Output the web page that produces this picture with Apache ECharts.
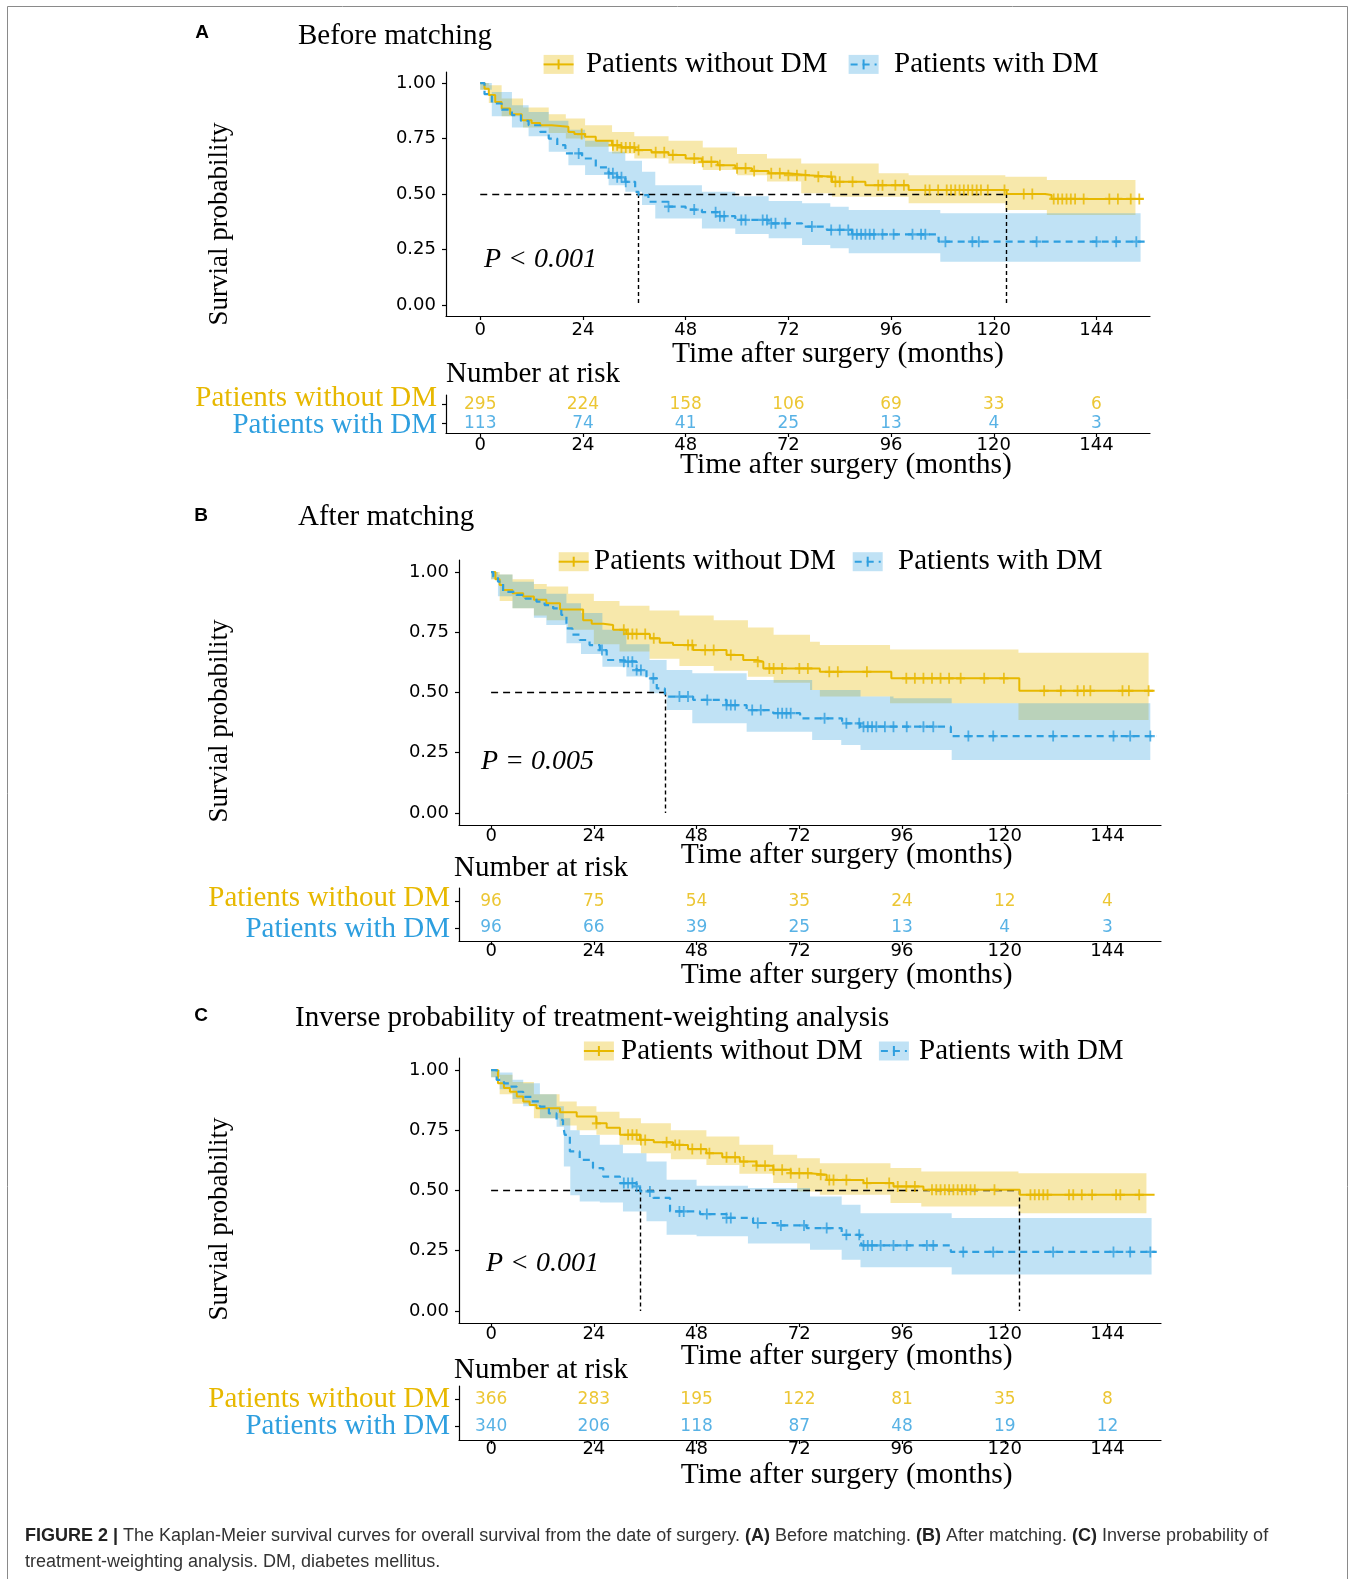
<!DOCTYPE html>
<html><head><meta charset="utf-8">
<script src="https://cdn.jsdelivr.net/npm/echarts@6/dist/echarts.min.js"></script>
<style>html,body{margin:0;padding:0;background:#fff}#c{width:1360px;height:1579px}</style>
</head><body><div id="c"></div><script>
// ---------------- DATA ----------------
const xTicks = [0, 24, 48, 72, 96, 120, 144];
const yTicks = [0, 0.25, 0.5, 0.75, 1];
const groups = ['Patients without DM', 'Patients with DM'];
const panelTitles = ['Before matching', 'After matching', 'Inverse probability of treatment-weighting analysis'];
const pLabels = ['P < 0.001', 'P = 0.005', 'P < 0.001'];

// Panel A
const A_noDM_t = [0,1,2,3.5,5,7,9.7,12,14,16.7,20.6,22,24.5,27,30.8,33,36.2,40,44,48,51.8,55.5,59.6,63.5,67.4,72,76.7,82.2,90,100.1,123,132,133.5,155];
const A_noDM_s = [1,0.975,0.946,0.915,0.886,0.86,0.833,0.82,0.81,0.803,0.78,0.77,0.758,0.74,0.72,0.71,0.698,0.688,0.676,0.66,0.645,0.63,0.616,0.604,0.593,0.585,0.578,0.555,0.54,0.518,0.50,0.495,0.478,0.478];
const A_noDM_ciT = [0,2,5,10,16,20,24.5,30.8,36,44,52,60,67,75,82.2,93.1,100.1,122.7,132.4,153.1];
const A_noDM_hi = [1,0.99,0.93,0.89,0.86,0.84,0.81,0.78,0.76,0.74,0.71,0.68,0.66,0.638,0.638,0.593,0.585,0.578,0.563,0.563];
const A_noDM_lo = [0.97,0.91,0.85,0.80,0.775,0.75,0.713,0.683,0.66,0.638,0.608,0.585,0.556,0.503,0.488,0.488,0.458,0.428,0.405,0.405];
const A_noDM_cens = [23.7,31,32,33,34,35,36,37,41,43,45,50,52,54,56,60,62,64,68,70,72,74,76,79,82,83,84,87,93,94,97,99,104,105,107,109,110,111,112,113,114,115,116,117,118.6,122.5,127,129,134,135,136,137,138,139,141,147,149,152,154];
const A_DM_t = [0,1,2.7,5,7.4,9.5,11.3,14,16,18,19.9,23.8,27,30,32,33.9,36.2,37,39.3,44,48,51.8,55.5,59.6,67.4,75.2,81,86.9,107.1,155.4];
const A_DM_s = [1,0.95,0.908,0.88,0.856,0.83,0.81,0.78,0.75,0.72,0.683,0.66,0.62,0.593,0.575,0.555,0.51,0.495,0.465,0.443,0.43,0.418,0.40,0.383,0.368,0.353,0.338,0.318,0.285,0.285];
const A_DM_ciT = [0,2.7,7.4,11.3,16,20.6,24.5,30,33.9,37.8,40.9,51.8,59.6,67.4,75.2,81.8,86.1,107.5,154.3];
const A_DM_hi = [1,0.96,0.9,0.87,0.83,0.79,0.74,0.69,0.65,0.60,0.54,0.51,0.49,0.468,0.458,0.443,0.428,0.413,0.413];
const A_DM_lo = [0.97,0.85,0.80,0.76,0.69,0.63,0.586,0.54,0.51,0.45,0.39,0.345,0.32,0.30,0.27,0.255,0.233,0.195,0.195];
const A_DM_cens = [23,30,31,32,33,34,44,50,55,56,57,61,62,66,67,68,69,71.3,77.5,82,84,86,87,88,89,90,91,92,94,96.6,101,103,104,108.7,115,116.5,130,144,148.6,153.3];
const A_medians = [37, 123];
const A_risk_noDM = [295, 224, 158, 106, 69, 33, 6];
const A_risk_DM = [113, 74, 41, 25, 13, 4, 3];

// Panel B
const B_noDM_t = [0,1,2,2.8,5,7.5,10,12.9,16.1,21.5,23.5,26.2,28.5,31.6,37.1,39.4,42.5,47.2,55,58.9,62,63.6,76.8,93.5,123.4,155];
const B_noDM_s = [1,0.97,0.946,0.925,0.912,0.898,0.885,0.87,0.845,0.80,0.785,0.78,0.76,0.743,0.725,0.707,0.697,0.676,0.656,0.635,0.628,0.60,0.586,0.559,0.507,0.507];
const B_noDM_ciT = [0,2,5,10,13,18,24,30,37,44,52,60,66,74.5,76.8,93.2,123.2,153.6];
const B_noDM_hi = [1,0.99,0.97,0.95,0.94,0.91,0.88,0.86,0.84,0.82,0.80,0.77,0.74,0.711,0.697,0.679,0.665,0.665];
const B_noDM_lo = [0.97,0.88,0.85,0.82,0.80,0.76,0.70,0.67,0.64,0.61,0.59,0.565,0.54,0.51,0.483,0.455,0.386,0.386];
const B_noDM_cens = [31,32,33,34,36,38,46,47,50,52,56,62.3,65,66,68,72,74,79,81,87.8,97,99,101,103,105,107,109.7,115.2,119.8,129.2,133.1,137,138.5,140,147.5,149,153.6];
const B_DM_t = [0,0.5,1.6,2.8,5.9,8,10.6,12.5,14.5,16.4,17.6,19,20.7,23,25.4,27,30.1,34,36.3,38.7,40.6,47.2,55,59.7,65.9,72.2,82,86.2,107.4,155.5];
const B_DM_s = [1,0.98,0.96,0.918,0.905,0.89,0.877,0.863,0.849,0.822,0.766,0.74,0.718,0.697,0.676,0.635,0.628,0.593,0.559,0.517,0.483,0.469,0.448,0.427,0.414,0.393,0.372,0.358,0.319,0.319];
const B_DM_ciT = [0,1.6,5,10,12.9,17.6,21,26,31.6,37,41,47,59.7,75,81.8,86.3,94,107.6,154];
const B_DM_hi = [1,0.99,0.96,0.93,0.91,0.87,0.83,0.76,0.70,0.635,0.593,0.58,0.552,0.51,0.51,0.483,0.476,0.455,0.455];
const B_DM_lo = [0.97,0.9,0.85,0.81,0.78,0.704,0.66,0.607,0.566,0.497,0.427,0.372,0.337,0.303,0.282,0.261,0.261,0.22,0.22];
const B_DM_cens = [25.9,31,32,33,34,35,37.9,44,46,50.5,55,56,57,61,63,67,68,69,70,77.9,83,86,87,88,89,90,92,94,97.1,101,103.3,111.5,117.3,131.3,145.4,149.3,154];
const B_medians = [40.6];
const B_risk_noDM = [96, 75, 54, 35, 24, 12, 4];
const B_risk_DM = [96, 66, 39, 25, 13, 4, 3];

// Panel C
const C_noDM_t = [0,1.6,3,4.4,6,7.5,9,10.6,16.1,20,24.6,27,30.1,34.8,38,42.5,46,50.3,54,58.1,62,65.9,70,74.5,78.4,87,94,101,123.5,155];
const C_noDM_s = [1,0.945,0.925,0.91,0.89,0.869,0.855,0.841,0.825,0.807,0.779,0.76,0.731,0.71,0.70,0.689,0.672,0.655,0.638,0.62,0.603,0.586,0.572,0.565,0.544,0.531,0.517,0.503,0.482,0.482];
const C_noDM_ciT = [0,2,5,10,16,20,24.6,30,35,42,50.3,58,65.9,71.5,76.8,93.3,100.5,123.2,153.1];
const C_noDM_hi = [1,0.98,0.95,0.90,0.869,0.85,0.827,0.80,0.779,0.75,0.724,0.69,0.648,0.634,0.613,0.593,0.579,0.572,0.572];
const C_noDM_lo = [0.97,0.90,0.86,0.80,0.77,0.75,0.731,0.69,0.655,0.63,0.606,0.57,0.531,0.496,0.482,0.448,0.434,0.406,0.406];
const C_noDM_cens = [24.6,32,33,34,35,36,41,43,44,47,49,51,55,57,59,62,64,66,68,70,72,74,77,79,80,83,87.8,93,95,97,99,103,104,105,106,107,108,109,110,111,112,113,117.6,126,127,128,129,130,135,136,138,140.4,146,147,151.4];
const C_DM_t = [0,1.3,3,4.4,6,7.5,9.5,11.4,13.5,15.3,16.8,17.2,18.4,20.7,23.8,26.2,30.1,34,34.8,37.9,41.8,48.8,55,61.2,67.5,73.7,81.9,86.2,86.6,107.4,155.5];
const C_DM_s = [1,0.959,0.945,0.931,0.91,0.889,0.87,0.848,0.82,0.793,0.772,0.731,0.662,0.627,0.593,0.558,0.531,0.517,0.496,0.469,0.413,0.402,0.386,0.365,0.355,0.344,0.316,0.296,0.272,0.245,0.245];
const C_DM_ciT = [0,2,5,7.5,11.4,15.3,17,18.5,20.7,25.4,30.8,36.3,41,48,60,74.5,81.9,86.3,107.6,154.3];
const C_DM_hi = [1,0.99,0.96,0.945,0.90,0.85,0.80,0.75,0.73,0.69,0.655,0.62,0.545,0.52,0.51,0.475,0.441,0.406,0.386,0.386];
const C_DM_lo = [0.97,0.92,0.88,0.85,0.80,0.765,0.6,0.48,0.454,0.45,0.413,0.372,0.316,0.31,0.28,0.254,0.213,0.181,0.151,0.151];
const C_DM_cens = [31,32,33,34,37.1,44,45,50.4,55,56,62.3,67.7,73.1,78.4,83,86,87,88,89,91,94,97.1,101.8,103.3,110.3,117.3,131.3,145.4,149.3,154];
const C_medians = [34.8, 123.5];
const C_risk_noDM = [366, 283, 195, 122, 81, 35, 8];
const C_risk_DM = [340, 206, 118, 87, 48, 19, 12];

// ---------------- STYLE / LAYOUT ----------------
const YEL = '#E7B800', BLU = '#2E9FDF';
const YEL_BAND = 'rgba(231,184,0,0.33)', BLU_BAND = 'rgba(46,159,223,0.30)';
const SERIF = '"Liberation Serif","Times New Roman",serif';
const SANS = '"DejaVu Sans",sans-serif';
const CAPF = '"Liberation Sans",Arial,sans-serif';
const FS = 29;

const panels = [
  { letter:'A', title:panelTitles[0], p:pLabels[0], med:A_medians, riskNo:A_risk_noDM, riskDM:A_risk_DM,
    noDM:{t:A_noDM_t,s:A_noDM_s,ciT:A_noDM_ciT,lo:A_noDM_lo,hi:A_noDM_hi,cens:A_noDM_cens},
    DM:{t:A_DM_t,s:A_DM_s,ciT:A_DM_ciT,lo:A_DM_lo,hi:A_DM_hi,cens:A_DM_cens},
    L:{plot:{left:446,top:72,width:704,height:244}, table:{left:446,top:395,width:704,height:38}, xmin:-8, xmax:156.5,
       pm:5, tm:3, padTop:[0,0,12,0], padBot:[4,0,0,0],
       letterXY:[202,33], titleXY:[298,36], leg:[64.4,543.6,585.9,848.6,894], ytY:224, pXY:[484,260], narXY:[446,374.5],
       xt1:[838,354], xt2:[846,465]} },
  { letter:'B', title:panelTitles[1], p:pLabels[1], med:B_medians, riskNo:B_risk_noDM, riskDM:B_risk_DM,
    noDM:{t:B_noDM_t,s:B_noDM_s,ciT:B_noDM_ciT,lo:B_noDM_lo,hi:B_noDM_hi,cens:B_noDM_cens},
    DM:{t:B_DM_t,s:B_DM_s,ciT:B_DM_ciT,lo:B_DM_lo,hi:B_DM_hi,cens:B_DM_cens},
    L:{plot:{left:459,top:560,width:702,height:265}, table:{left:459,top:888,width:702,height:53}, xmin:-7.5, xmax:156.5,
       pm:2, tm:1, padTop:[0,0,6,0], padBot:[4,0,0,0],
       letterXY:[201,515.5], titleXY:[298,517], leg:[561.7,558.7,594,852.7,898], ytY:721, pXY:[481,762], narXY:[454,868],
       xt1:[846.6,855], xt2:[846.6,975]} },
  { letter:'C', title:panelTitles[2], p:pLabels[2], med:C_medians, riskNo:C_risk_noDM, riskDM:C_risk_DM,
    noDM:{t:C_noDM_t,s:C_noDM_s,ciT:C_noDM_ciT,lo:C_noDM_lo,hi:C_noDM_hi,cens:C_noDM_cens},
    DM:{t:C_DM_t,s:C_DM_s,ciT:C_DM_ciT,lo:C_DM_lo,hi:C_DM_hi,cens:C_DM_cens},
    L:{plot:{left:459,top:1058,width:702,height:265}, table:{left:459,top:1386,width:702,height:54}, xmin:-7.5, xmax:156.5,
       pm:2.5, tm:0, padTop:[0,0,0,0], padBot:[0,0,0,0],
       letterXY:[201,1016], titleXY:[295,1018], leg:[1051,583.9,621.1,878.9,919], ytY:1219, pXY:[486,1264], narXY:[454,1370],
       xt1:[846.6,1356], xt2:[846.6,1475]} }
];

function survAt(t, ts, ss) {
  let v = ss[0];
  for (let i = 0; i < ts.length; i++) { if (ts[i] <= t) v = ss[i]; else break; }
  return v;
}

const PLUS = 'path://M4,0H6V4H10V6H6V10H4V6H0V4H4Z';
const grid = [], xAxis = [], yAxis = [], series = [], graphic = [];

function txt(x, y, text, o, extra) {
  return Object.assign({ type:'text', x:x, y:y, silent:true,
    style: Object.assign({ text:text, fill:'#000', fontFamily:SERIF, fontSize:FS,
      align:'left', verticalAlign:'middle', textAlign:'left', textVerticalAlign:'middle' }, o || {}) }, extra || {});
}

function bandSeries(g, c, color) {
  return { type:'custom', xAxisIndex:g, yAxisIndex:g, silent:true, z:1, clip:true,
    encode:{ x:0, y:[1,2] },
    data: c.ciT.map((t,i) => [t, c.lo[i], c.hi[i]]),
    renderItem: function (params, api) {
      if (params.dataIndexInside !== 0) return null;
      const n = params.dataInsideLength;
      const up = [], dn = [];
      for (let j = 0; j < n - 1; j++) {
        const t0 = api.value(0, j), t1 = api.value(0, j + 1), lo = api.value(1, j), hi = api.value(2, j);
        up.push(api.coord([t0, hi]), api.coord([t1, hi]));
        dn.push(api.coord([t0, lo]), api.coord([t1, lo]));
      }
      return { type:'polygon', shape:{ points: up.concat(dn.reverse()) }, style:{ fill: color } };
    } };
}

panels.forEach((P, k) => {
  const g = 2 * k, L = P.L;
  grid.push(Object.assign({ containLabel:false }, L.plot));
  grid.push(Object.assign({ containLabel:false }, L.table));
  const axLine = { show:true, onZero:false, lineStyle:{ color:'#000', width:1.2 } };
  [g, g + 1].forEach((gi, j) => {
    xAxis.push({ type:'value', gridIndex:gi, min:L.xmin, max:L.xmax, axisLine:axLine,
      axisTick:{ show:true, length:4, customValues:xTicks, lineStyle:{ color:'#000', width:1.2 } },
      axisLabel:{ customValues:xTicks, margin: j === 0 ? L.pm : L.tm, color:'#000', fontFamily:SANS, fontSize:18 },
      splitLine:{ show:false } });
  });
  yAxis.push({ type:'value', gridIndex:g, min:-0.05, max:1.05, axisLine:axLine,
    axisTick:{ show:true, length:4, customValues:yTicks, lineStyle:{ color:'#000', width:1.2 } },
    axisLabel:{ customValues:yTicks, formatter: v => v.toFixed(2), margin:10, color:'#000', fontFamily:SANS, fontSize:18 },
    splitLine:{ show:false } });
  yAxis.push({ type:'category', gridIndex:g + 1, data:[groups[1], groups[0]], axisLine:axLine,
    axisTick:{ show:true, length:4, alignWithLabel:true, interval:0, lineStyle:{ color:'#000', width:1.2 } },
    axisLabel:{ margin:9, interval:0, hideOverlap:false,
      formatter: v => (v === groups[0] ? '{y|' + v + '}' : '{b|' + v + '}'),
      rich:{ y:{ color:YEL, fontFamily:SERIF, fontSize:FS, padding:L.padTop },
             b:{ color:BLU, fontFamily:SERIF, fontSize:FS, padding:L.padBot } } },
    splitLine:{ show:false } });

  // confidence bands
  series.push(bandSeries(g, P.noDM, YEL_BAND));
  series.push(bandSeries(g, P.DM, BLU_BAND));
  // curves + median lines
  const medMax = Math.max.apply(null, P.med);
  const mlData = [[{ coord:[0, 0.5], lineStyle:{ type:[7,5] } }, { coord:[medMax, 0.5] }]];
  P.med.forEach(m => mlData.push([{ coord:[m, 0.5], lineStyle:{ type:[4,3] } }, { coord:[m, 0] }]));
  series.push({ type:'line', xAxisIndex:g, yAxisIndex:g, step:'end', symbol:'none', silent:true, z:3,
    data: P.noDM.t.map((t,i) => [t, P.noDM.s[i]]), lineStyle:{ color:YEL, width:2 },
    markLine:{ silent:true, symbol:['none','none'], animation:false, label:{ show:false }, z:2,
      lineStyle:{ color:'#000', width:1.4, type:[7,5] }, data: mlData } });
  series.push({ type:'line', xAxisIndex:g, yAxisIndex:g, step:'end', symbol:'none', silent:true, z:3,
    data: P.DM.t.map((t,i) => [t, P.DM.s[i]]), lineStyle:{ color:BLU, width:2.2, type:[7,5] } });
  // censor marks
  series.push({ type:'scatter', xAxisIndex:g, yAxisIndex:g, symbol:PLUS, symbolSize:[9,11], silent:true, z:4,
    itemStyle:{ color:YEL }, data: P.noDM.cens.map(t => [t, survAt(t, P.noDM.t, P.noDM.s)]) });
  series.push({ type:'scatter', xAxisIndex:g, yAxisIndex:g, symbol:PLUS, symbolSize:[9,11], silent:true, z:4,
    itemStyle:{ color:BLU }, data: P.DM.cens.map(t => [t, survAt(t, P.DM.t, P.DM.s)]) });
  // risk table
  [[P.riskNo, groups[0], YEL], [P.riskDM, groups[1], BLU]].forEach(r => {
    series.push({ type:'scatter', xAxisIndex:g + 1, yAxisIndex:g + 1, symbolSize:0, silent:true,
      data: r[0].map((n,i) => [xTicks[i], r[1], n]),
      label:{ show:true, position:'inside', formatter: p => String(p.value[2]), color:r[2], fontFamily:SANS, fontSize:17 } });
  });

  // texts
  graphic.push(txt(L.letterXY[0], L.letterXY[1], P.letter, { fontFamily:CAPF, fontWeight:'bold', fontSize:19, align:'center', textAlign:'center' }));
  graphic.push(txt(L.titleXY[0], L.titleXY[1], P.title));
  const lg = L.leg, ly = lg[0];
  graphic.push({ type:'rect', silent:true, shape:{ x:lg[1], y:ly - 9.5, width:30, height:19 }, style:{ fill:YEL_BAND } });
  graphic.push({ type:'line', silent:true, shape:{ x1:lg[1], y1:ly, x2:lg[1] + 30, y2:ly }, style:{ stroke:YEL, lineWidth:2 } });
  graphic.push({ type:'line', silent:true, shape:{ x1:lg[1] + 15, y1:ly - 5, x2:lg[1] + 15, y2:ly + 5 }, style:{ stroke:YEL, lineWidth:2 } });
  graphic.push(txt(lg[2], ly, groups[0]));
  graphic.push({ type:'rect', silent:true, shape:{ x:lg[3], y:ly - 9.5, width:30, height:19 }, style:{ fill:BLU_BAND } });
  graphic.push({ type:'line', silent:true, shape:{ x1:lg[3] + 2, y1:ly, x2:lg[3] + 28, y2:ly }, style:{ stroke:BLU, lineWidth:2, lineDash:[7,5] } });
  graphic.push({ type:'line', silent:true, shape:{ x1:lg[3] + 15, y1:ly - 5, x2:lg[3] + 15, y2:ly + 5 }, style:{ stroke:BLU, lineWidth:2 } });
  graphic.push(txt(lg[4], ly, groups[1]));
  graphic.push(txt(219.5, L.ytY, 'Survial probability', { align:'center', textAlign:'center', fontSize:27 }, { rotation: Math.PI / 2 }));
  graphic.push(txt(L.pXY[0], L.pXY[1], P.p, { fontStyle:'italic', fontSize:28 }));
  graphic.push(txt(L.narXY[0], L.narXY[1], 'Number at risk'));
  graphic.push(txt(L.xt1[0], L.xt1[1], 'Time after surgery (months)', { align:'center', textAlign:'center', fontSize:29.5 }));
  graphic.push(txt(L.xt2[0], L.xt2[1], 'Time after surgery (months)', { align:'center', textAlign:'center', fontSize:29.5 }));
});

// caption + frame
graphic.push({ type:'rect', silent:true, shape:{ x:7.5, y:6.5, width:1340, height:1600 }, style:{ fill:'none', stroke:'#8a8a8a', lineWidth:1 } });
graphic.push(txt(25, 1536, '{b|FIGURE 2 |} The Kaplan-Meier survival curves for overall survival from the date of surgery. {b|(A)} Before matching. {b|(B)} After matching. {b|(C)} Inverse probability of',
  { fontFamily:CAPF, fontSize:18, fill:'#333', rich:{ b:{ fontFamily:CAPF, fontSize:18, fontWeight:'bold', fill:'#222', color:'#222' } } }));
graphic.push(txt(25, 1562, 'treatment-weighting analysis. DM, diabetes mellitus.', { fontFamily:CAPF, fontSize:18, fill:'#333' }));

const chart = echarts.init(document.getElementById('c'), null, { renderer:'canvas', width:1360, height:1579 });
chart.setOption({ animation:false, backgroundColor:'#fff', grid, xAxis, yAxis, series, graphic });
</script></body></html>
